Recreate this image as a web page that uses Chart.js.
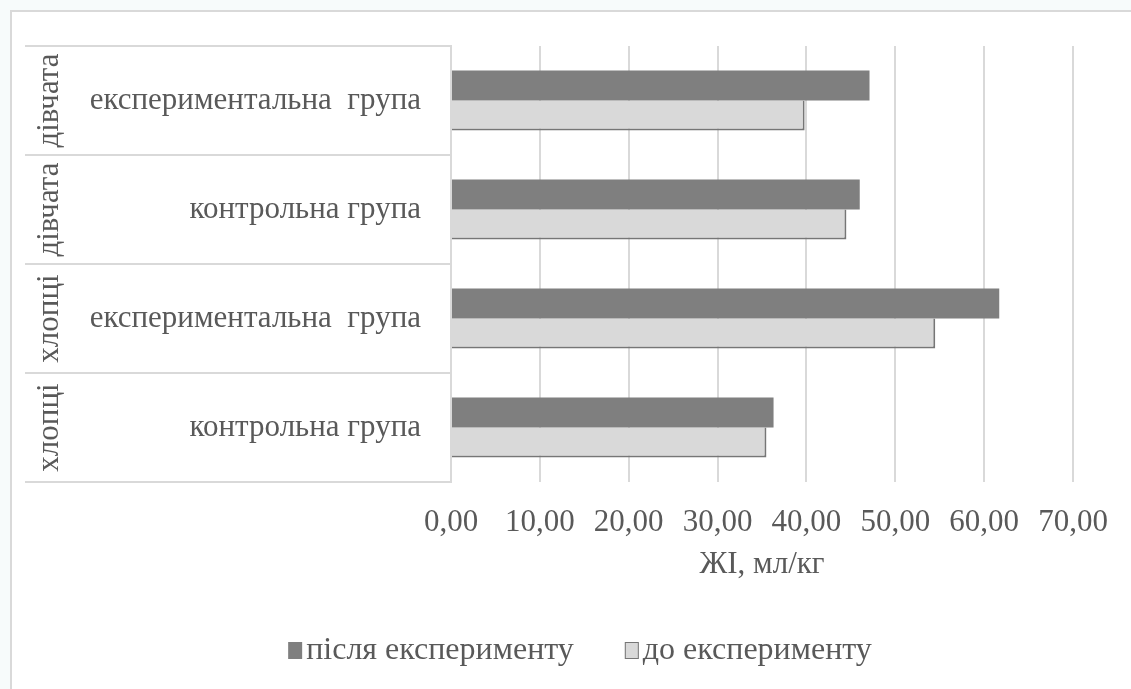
<!DOCTYPE html>
<html>
<head>
<meta charset="utf-8">
<script src="https://cdn.jsdelivr.net/npm/chart.js@4.4.1/dist/chart.umd.min.js"></script>
<style>
  body { margin: 0; background: #f7fbfb; }
  #wrap { width: 1131px; height: 689px; }
</style>
</head>
<body>
<div id="wrap"><canvas id="myChart" width="1131" height="689"></canvas></div>
<script>
	// categories (top to bottom)
	var groupLabels = ["експериментальна  група", "контрольна група", "експериментальна  група", "контрольна група"];
	var sexLabels = ["дівчата", "дівчата", "хлопці", "хлопці"];

	// ЖІ, мл/кг
	var afterExp = [47.1, 46.0, 61.7, 36.3];
	var beforeExp = [39.8, 44.5, 54.5, 35.5];

	var seriesNames = ["після експерименту", "до експерименту"];
	var axisTitle = "ЖІ, мл/кг";

	var serif = "'Liberation Serif', 'Times New Roman', serif";
	var textColor = "#595959";

	// frame, rotated outer labels, row separators and legend
	var sidePlugin = {
	    id: "side",
	    beforeDraw: function (chart) {
	        var c = chart.ctx;
	        c.save();
	        c.fillStyle = "#f7fbfb";
	        c.fillRect(0, 0, chart.width, chart.height);
	        c.fillStyle = "#ffffff";
	        c.fillRect(11, 11, chart.width, chart.height);
	        c.strokeStyle = "#d9d9d9";
	        c.lineWidth = 2;
	        c.beginPath();
	        c.moveTo(11, chart.height);
	        c.lineTo(11, 11);
	        c.lineTo(chart.width, 11);
	        c.stroke();
	        c.restore();
	    },
	    afterDraw: function (chart) {
	        var c = chart.ctx;
	        var y = chart.scales.y;
	        var left = chart.chartArea.left;
	        var step = y.getPixelForValue(1) - y.getPixelForValue(0);
	        c.save();
	        c.strokeStyle = "#d9d9d9";
	        c.lineWidth = 2;
	        for (var i = 0; i <= sexLabels.length; i++) {
	            var yy = y.getPixelForValue(i) - step / 2;
	            c.beginPath();
	            c.moveTo(25, yy);
	            c.lineTo(left, yy);
	            c.stroke();
	        }
	        c.fillStyle = textColor;
	        c.font = "31px " + serif;
	        c.textAlign = "center";
	        c.textBaseline = "middle";
	        for (var j = 0; j < sexLabels.length; j++) {
	            c.save();
	            c.translate(50, y.getPixelForValue(j));
	            c.rotate(-Math.PI / 2);
	            c.fillText(sexLabels[j], 0, 0);
	            c.restore();
	        }

	        // legend
	        c.font = "32px " + serif;
	        c.textAlign = "left";
	        var ds = chart.data.datasets;
	        var box = 14, gap = 4, between = 51;
	        var total = 0;
	        for (var k = 0; k < ds.length; k++) {
	            total += box + gap + c.measureText(ds[k].label).width;
	        }
	        total += between * (ds.length - 1);
	        var lx = 580 - total / 2, ly = 651;
	        for (var m = 0; m < ds.length; m++) {
	            c.fillStyle = ds[m].backgroundColor;
	            c.fillRect(lx, ly - 9, box, 17);
	            if (ds[m].borderColor) {
	                c.strokeStyle = ds[m].borderColor;
	                c.lineWidth = 1;
	                c.strokeRect(lx + 0.5, ly - 8.5, box - 1, 16);
	            }
	            c.fillStyle = textColor;
	            c.fillText(ds[m].label, lx + box + gap, ly);
	            lx += box + gap + c.measureText(ds[m].label).width + between;
	        }
	        c.restore();
	    }
	};

	var data = {
	    labels: groupLabels,
	    datasets: [{
	        label: seriesNames[0],
	        data: afterExp,
	        backgroundColor: "#7f7f7f",
	        borderWidth: 0
	    }, {
	        label: seriesNames[1],
	        data: beforeExp,
	        backgroundColor: "#d9d9d9",
	        borderColor: "#767676",
	        borderWidth: {top: 0, right: 2, bottom: 2, left: 0},
	        borderSkipped: "start"
	    }]
	};

	var ctx = document.getElementById("myChart");

	var myBarChart = new Chart(ctx, {
	    type: "bar",
	    data: data,
	    plugins: [sidePlugin],
	    options: {
	        indexAxis: "y",
	        responsive: false,
	        animation: false,
	        layout: {padding: {left: 0, right: 58, top: 46, bottom: 65}},
	        datasets: {bar: {categoryPercentage: 0.55, barPercentage: 1.0}},
	        scales: {
	            x: {
	                min: 0,
	                max: 70,
	                ticks: {
	                    stepSize: 10,
	                    padding: 22,
	                    color: textColor,
	                    font: {family: serif, size: 31},
	                    callback: function (v) { return v.toFixed(2).replace(".", ","); }
	                },
	                grid: {color: "#d9d9d9", lineWidth: 2, drawTicks: false},
	                border: {display: false},
	                title: {
	                    display: true,
	                    text: axisTitle,
	                    color: textColor,
	                    font: {family: serif, size: 31},
	                    padding: {top: 8, bottom: 41}
	                },
	                afterFit: function (s) { s.height = 142; }
	            },
	            y: {
	                ticks: {
	                    padding: 22,
	                    autoSkip: false,
	                    color: textColor,
	                    font: {family: serif, size: 31}
	                },
	                grid: {display: false},
	                border: {display: true, color: "#d9d9d9", width: 2},
	                afterFit: function (s) { s.width = 451; }
	            }
	        },
	        plugins: {
	            tooltip: {enabled: false},
	            legend: {display: false}
	        }
	    }
	});
</script>
</body>
</html>
